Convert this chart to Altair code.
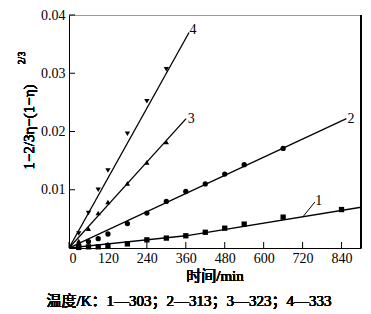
import altair as alt
import pandas as pd

# ---- data ----
t1 = [30, 60, 90, 120, 180, 240, 300, 360, 420, 480, 540, 660, 840]
v1 = [0.0001, 0.0002, 0.0002, 0.0004, 0.0007, 0.0014, 0.0017, 0.0021, 0.0027, 0.0034, 0.0041, 0.0053, 0.0066]
t2 = [30, 60, 90, 120, 180, 240, 300, 360, 420, 480, 540, 660]
v2 = [0.0005, 0.0011, 0.0016, 0.0024, 0.0042, 0.0060, 0.0080, 0.0097, 0.0110, 0.0127, 0.0143, 0.0171]
t3 = [30, 60, 90, 120, 180, 240, 300]
v3 = [0.0012, 0.0033, 0.0060, 0.0079, 0.0111, 0.0147, 0.0182]
t4 = [30, 60, 90, 120, 180, 240, 300]
v4 = [0.0025, 0.0060, 0.0100, 0.0133, 0.0196, 0.0252, 0.0307]

# fitted lines as drawn (end points)
line1_t = [0, 360, 900]
line1_v = [0.0, 0.0021, 0.0070]
line2_t = [0, 855]
line2_v = [0.0, 0.0222]
line3_t = [0, 361]
line3_v = [0.0, 0.0222]
line4_t = [0, 370]
line4_v = [0.0, 0.0370]

series_names = ["1", "2", "3", "4"]
label_t = [770, 869, 377, 382]
label_v = [0.0080, 0.0222, 0.0221, 0.0375]
leader_t = [720, 758]
leader_v = [0.0053, 0.0079]

x_ticks = [0, 120, 240, 360, 480, 600, 720, 840]
y_ticks = [0.01, 0.02, 0.03, 0.04]

W, H = 292, 233
SERIF = "Liberation Serif"
MIXED = "Liberation Serif, Noto Sans CJK SC"

pts = pd.concat([
    pd.DataFrame({"s": s, "t": t, "v": v})
    for s, t, v in zip(series_names, [t1, t2, t3, t4], [v1, v2, v3, v4])
])
lines = pd.concat([
    pd.DataFrame({"s": s, "t": t, "v": v})
    for s, t, v in zip(series_names, [line1_t, line2_t, line3_t, line4_t],
                       [line1_v, line2_v, line3_v, line4_v])
])
labels = pd.DataFrame({"s": series_names, "t": label_t, "v": label_v})
leader = pd.DataFrame({"t": leader_t, "v": leader_v})
xt = pd.DataFrame({"t": x_ticks})
yt = pd.DataFrame({"v": y_ticks})

xs = alt.Scale(domain=[0, 900], nice=False, zero=False)
ys = alt.Scale(domain=[0, 0.04], nice=False, zero=False)

xax = alt.Axis(values=x_ticks, format="d", labelPadding=3, title="")
yax = alt.Axis(values=y_ticks, format=".2f", labelPadding=4, title="")

line_layer = alt.Chart(lines).mark_line(color="black", strokeWidth=1.3, clip=True).encode(
    x=alt.X("t:Q", scale=xs, axis=xax), y=alt.Y("v:Q", scale=ys, axis=yax), detail="s:N"
)

base_pts = alt.Chart(pts).mark_point(filled=True, color="black", size=28, opacity=1).encode(
    x=alt.X("t:Q", scale=xs, axis=xax),
    y=alt.Y("v:Q", scale=ys, axis=yax),
    shape=alt.Shape("s:N", scale=alt.Scale(domain=series_names,
                    range=["square", "circle", "triangle-up", "triangle-down"]), legend=None),
)

lab_layer = alt.Chart(labels).mark_text(font=SERIF, fontSize=14, color="black").encode(
    x=alt.X("t:Q", scale=xs), y=alt.Y("v:Q", scale=ys), text="s:N"
)

leader_layer = alt.Chart(leader).mark_line(color="black", strokeWidth=1).encode(
    x=alt.X("t:Q", scale=xs), y=alt.Y("v:Q", scale=ys)
)

xtick_layer = alt.Chart(xt).mark_rule(color="black", strokeWidth=1).encode(
    x=alt.X("t:Q", scale=xs), y=alt.value(H), y2=alt.value(H - 6)
)
ytick_layer = alt.Chart(yt).mark_rule(color="black", strokeWidth=1).encode(
    y=alt.Y("v:Q", scale=ys), x=alt.value(0), x2=alt.value(6)
)
right_border = alt.Chart(xt).mark_rule(color="black", strokeWidth=1).encode(
    x=alt.value(W), y=alt.value(0), y2=alt.value(H)
)

ytitle_main = alt.Chart(xt).mark_text(font=SERIF, fontSize=15, color="black", angle=270).encode(
    x=alt.value(-40), y=alt.value(112), text=alt.value("1−2/3η−(1−η)")
)
ytitle_sup = alt.Chart(xt).mark_text(font=SERIF, fontSize=10, color="black", angle=270).encode(
    x=alt.value(-47), y=alt.value(43), text=alt.value("2/3")
)
xtitle = alt.Chart(xt).mark_text(font=MIXED, fontSize=15, color="black").encode(
    x=alt.value(146), y=alt.value(261), text=alt.value("时间/min")
)
caption = alt.Chart(xt).mark_text(font=MIXED, fontSize=15, color="black").encode(
    x=alt.value(120), y=alt.value(286), text=alt.value("温度/K：1—303；2—313；3—323；4—333")
)

chart = alt.layer(
    line_layer, base_pts, lab_layer, leader_layer, xtick_layer, ytick_layer,
    right_border, ytitle_main, ytitle_sup, xtitle, caption
).properties(
    width=W, height=H,
    autosize=alt.AutoSizeParams(type="none"),
    padding={"left": 69, "top": 15, "right": 10, "bottom": 66},
    background="white",
).configure_view(
    stroke="#999999", strokeWidth=1
).configure_axis(
    labelFont=SERIF, labelFontSize=14, labelColor="black", labelFontWeight="normal",
    ticks=False, grid=False, domainColor="black", domainWidth=1
)

chart.save("out.html", embed_options={"renderer": "svg", "actions": False})
